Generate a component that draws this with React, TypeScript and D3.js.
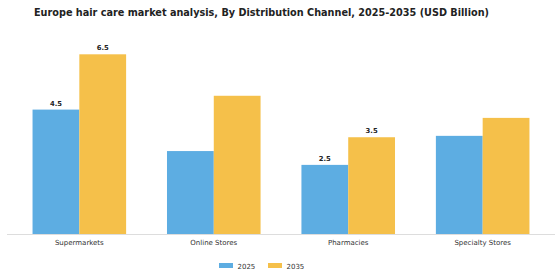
import * as d3 from "d3";

const categories = ["Supermarkets", "Online Stores", "Pharmacies", "Specialty Stores"];
const years = ["2025", "2035"];
const values2025 = [4.5, 3.0, 2.5, 3.55];
const values2035 = [6.5, 5.0, 3.5, 4.2];
// only some bars carry a value label in the original
const labels2025 = ["4.5", "", "2.5", ""];
const labels2035 = ["6.5", "", "3.5", ""];

const colors = ["#5DADE2", "#F5C04A"];
const W = 560;
const H = 280;
const font = "'DejaVu Sans', sans-serif";

export default function App() {
  const baseY = 234;
  const x = d3.scaleBand<string>().domain(categories).range([7, 555]).paddingInner(0.304).paddingOuter(0.19);
  const xi = d3.scaleBand<string>().domain(years).range([0, x.bandwidth()]);
  const y = d3.scaleLinear().domain([0, 6.5]).range([baseY, 54.3]);

  const series = [
    { year: years[0], vals: values2025, labels: labels2025, color: colors[0] },
    { year: years[1], vals: values2035, labels: labels2035, color: colors[1] },
  ];

  return (
    <svg
      width={W}
      height={H}
      style={{ position: "absolute", left: 0, top: 0, background: "#fff" }}
      fontFamily={font}
    >
      <text x={261.5} y={16} textAnchor="middle" fontSize={9.7} fontWeight="bold" fill="#222">
        Europe hair care market analysis, By Distribution Channel, 2025-2035 (USD Billion)
      </text>
      {series.map((s) =>
        categories.map((c, i) => {
          const bx = (x(c) ?? 0) + (xi(s.year) ?? 0);
          const by = y(s.vals[i]);
          return (
            <g key={s.year + c}>
              <rect x={bx} y={by} width={xi.bandwidth()} height={baseY - by} fill={s.color} />
              {s.labels[i] && (
                <text
                  x={bx + xi.bandwidth() / 2}
                  y={by - 4}
                  textAnchor="middle"
                  fontSize={6.8}
                  fontWeight="bold"
                  fill="#222"
                >
                  {s.labels[i]}
                </text>
              )}
            </g>
          );
        }),
      )}
      <line x1={7} x2={555} y1={baseY + 0.5} y2={baseY + 0.5} stroke="#ddd" strokeWidth={1} />
      {categories.map((c) => (
        <text
          key={c}
          x={(x(c) ?? 0) + x.bandwidth() / 2}
          y={245}
          textAnchor="middle"
          fontSize={7}
          fill="#333"
        >
          {c}
        </text>
      ))}
      {years.map((yr, i) => (
        <g key={yr} transform={`translate(${219 + i * 49},0)`}>
          <rect x={0} y={263} width={14} height={5} fill={colors[i]} />
          <text x={18.5} y={268.5} fontSize={7} fill="#333">
            {yr}
          </text>
        </g>
      ))}
    </svg>
  );
}
